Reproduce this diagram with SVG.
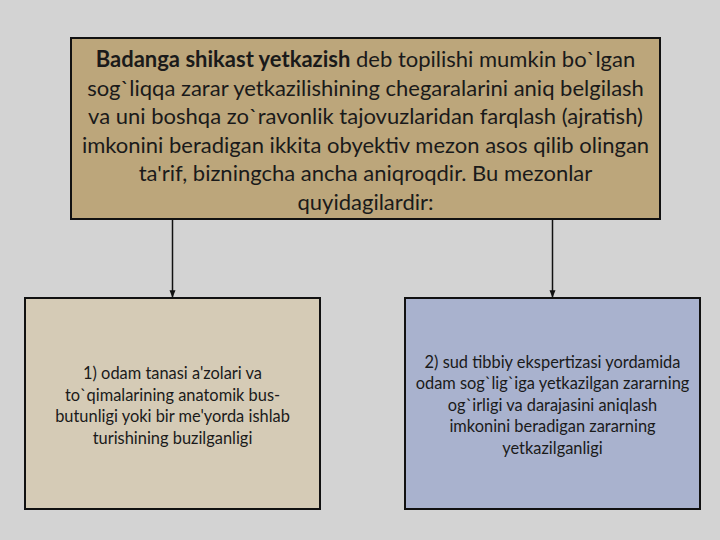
<svg xmlns="http://www.w3.org/2000/svg" width="720" height="540" viewBox="0 0 720 540">
<defs>
<style>
.box{stroke:#111;stroke-width:2}
.t{font-family:Lato,"Liberation Sans",sans-serif;fill:#1a1a1a;text-anchor:middle}
.big{font-size:22px}
.small{font-size:16.4px}
.conn{stroke:#111;stroke-width:1.5;fill:none}
</style>
<marker id="arr" viewBox="0 0 10 10" refX="9" refY="5" markerWidth="5" markerHeight="5" orient="auto">
<path d="M0,1 L10,5 L0,9 Z" fill="#111"/>
</marker>
</defs>
<rect width="720" height="540" fill="#d3d3d3"/>
<g id="top">
<rect class="box" x="71" y="38" width="589" height="181" fill="#bca67b"/>
<text class="t big" x="365.5" y="67"><tspan font-weight="bold">Badanga shikast yetkazish</tspan> deb topilishi mumkin bo`lgan</text>
<text class="t big" x="365.5" y="95.5">sog`liqqa zarar yetkazilishining chegaralarini aniq belgilash</text>
<text class="t big" x="365.5" y="124">va uni boshqa zo`ravonlik tajovuzlaridan farqlash (ajratish)</text>
<text class="t big" x="365.5" y="152.5">imkonini beradigan ikkita obyektiv mezon asos qilib olingan</text>
<text class="t big" x="365.5" y="181">ta'rif, bizningcha ancha aniqroqdir. Bu mezonlar</text>
<text class="t big" x="365.5" y="209.5">quyidagilardir:</text>
</g>
<g id="left">
<rect class="box" x="25" y="298" width="295" height="211" fill="#d5cbb6"/>
<text class="t small" x="172.5" y="379">1) odam tanasi a'zolari va</text>
<text class="t small" x="172.5" y="400.5">to`qimalarining anatomik bus-</text>
<text class="t small" x="172.5" y="422">butunligi yoki bir me'yorda ishlab</text>
<text class="t small" x="172.5" y="443.5">turishining buzilganligi</text>
</g>
<g id="right">
<rect class="box" x="405" y="298" width="295" height="211" fill="#a9b2ce"/>
<text class="t small" x="552.5" y="367.5">2) sud tibbiy ekspertizasi yordamida</text>
<text class="t small" x="552.5" y="389">odam sog`lig`iga yetkazilgan zararning</text>
<text class="t small" x="552.5" y="410.5">og`irligi va darajasini aniqlash</text>
<text class="t small" x="552.5" y="432">imkonini beradigan zararning</text>
<text class="t small" x="552.5" y="453.5">yetkazilganligi</text>
</g>
<g id="connectors">
<line class="conn" x1="172.5" y1="220" x2="172.5" y2="297" marker-end="url(#arr)"/>
<line class="conn" x1="552.5" y1="220" x2="552.5" y2="297" marker-end="url(#arr)"/>
</g>
</svg>
